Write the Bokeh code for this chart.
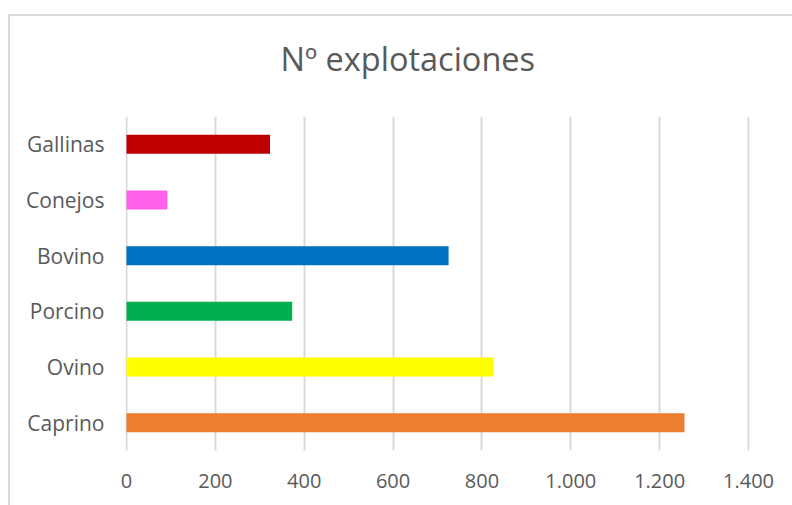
from bokeh.plotting import figure
from bokeh.models import ColumnDataSource, FixedTicker, Range1d
from bokeh.embed import file_html
from bokeh.resources import INLINE

categories = ["Caprino", "Ovino", "Porcino", "Bovino", "Conejos", "Gallinas"]
values = [1256, 826, 373, 725, 92, 323]
bar_colors = ["#ED7D31", "#FFFF00", "#00B050", "#0070C0", "#FF61EB", "#C00000"]
tick_values = [0, 200, 400, 600, 800, 1000, 1200, 1400]
tick_labels = ["0", "200", "400", "600", "800", "1.000", "1.200", "1.400"]
title_text = "Nº explotaciones"

source = ColumnDataSource(dict(cat=categories, val=values, color=bar_colors))

FONT = "Open Sans"
GRAY = "#595959"
BORDER = "#d9d9d9"

p = figure(
    y_range=categories,
    x_range=Range1d(-2.25, 1402.25),
    frame_width=624, frame_height=334,
    min_border_left=117, min_border_right=43,
    min_border_top=120, min_border_bottom=55,
    output_backend="svg", toolbar_location=None,
)
p.styles = {
    "margin-left": "8px",
    "margin-top": "-4px",
    "background": (
        f"linear-gradient({BORDER}, {BORDER}) 0px 18px / 2px 100% no-repeat, "
        f"linear-gradient({BORDER}, {BORDER}) 0px 18px / 100% 2px no-repeat, #ffffff"
    ),
}

p.hbar(y="cat", right="val", left=0, height=0.34, color="color", line_color=None, source=source)

p.title.text = title_text
p.title.align = "left"
p.title.vertical_align = "bottom"
p.title.offset = 155
p.title.text_font = FONT
p.title.text_font_size = "32.5px"
p.title.text_font_style = "normal"
p.title.text_color = GRAY
p.title.standoff = 71

p.outline_line_color = None
p.background_fill_color = "white"
p.border_fill_color = None

p.ygrid.grid_line_color = None
p.xgrid.grid_line_color = BORDER
p.xgrid.grid_line_width = 2
p.xaxis.ticker = FixedTicker(ticks=tick_values)
p.xaxis.major_label_overrides = {v: l for v, l in zip(tick_values, tick_labels)}

for ax in (p.xaxis, p.yaxis):
    ax.axis_line_color = None
    ax.major_tick_line_color = None
    ax.minor_tick_line_color = None
    ax.major_label_text_font = FONT
    ax.major_label_text_color = GRAY

p.xaxis.major_label_text_font_size = "20px"
p.xaxis.major_label_standoff = 17
p.yaxis.major_label_text_font_size = "21px"
p.yaxis.major_label_standoff = 15
p.y_range.range_padding = 0

open("out.html", "w").write(file_html(p, INLINE))
